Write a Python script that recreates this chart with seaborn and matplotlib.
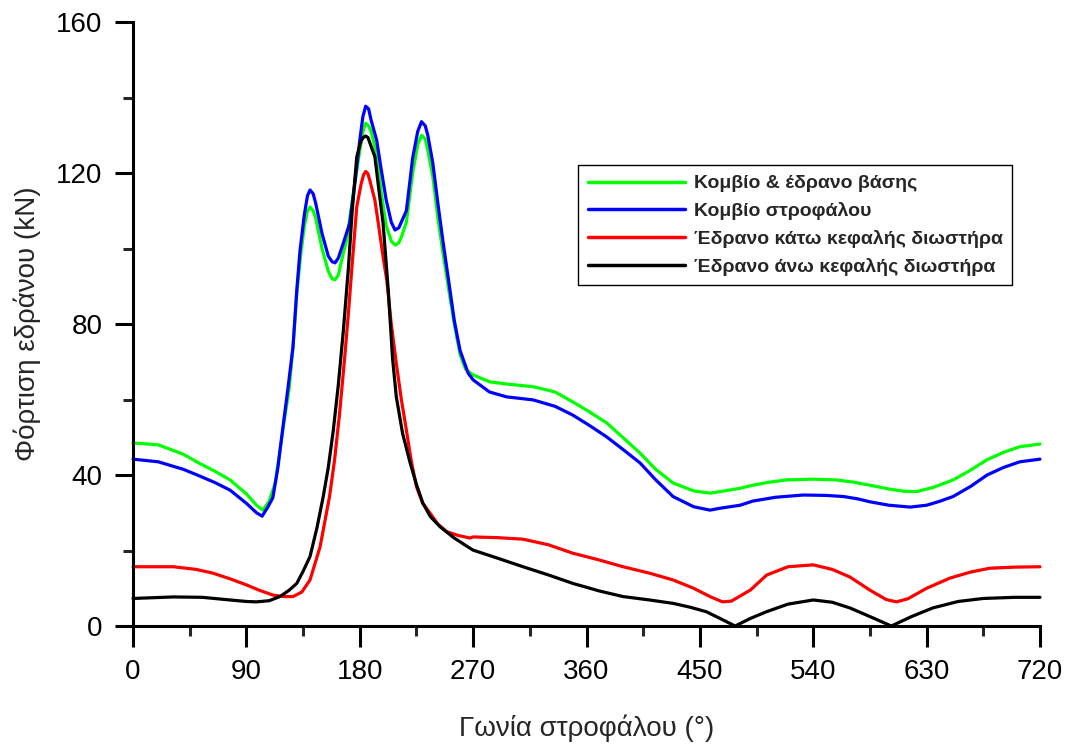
import matplotlib
matplotlib.use("Agg")
import matplotlib.pyplot as plt
from matplotlib.ticker import MultipleLocator
import pandas as pd
import seaborn as sns

# crank angle (deg) / bearing load (kN)
main_angle = [0, 20, 40, 51, 65, 77, 90, 98, 103, 108, 113, 119, 124, 127, 130, 133, 136,
              138.5, 140.5, 143, 145, 150, 155, 158, 160.4, 163, 165, 170, 175, 180, 182.5,
              184.7, 187, 189, 193.4, 197, 201, 205, 208, 211, 213, 217, 222, 226, 229, 232,
              234, 238, 242, 246, 251.6, 255, 259.6, 264, 270, 283,
              296.6, 317.6, 335, 349, 362, 376, 390, 402.5, 415, 428.7, 445, 458, 466, 482,
              492, 505, 519, 540, 558.6, 572, 585, 600, 612, 622, 636, 651, 665, 677.7, 691,
              704, 720]
main_load = [48.5, 48, 45.5, 43.4, 41, 38.7, 35, 32, 30.7, 33, 38, 52, 63, 74, 88, 98, 106,
             110, 111, 110, 108, 100, 94, 92, 91.7, 93, 96, 103, 115, 126, 131,
             133.2, 132.5, 131, 125, 115, 106, 102, 100.9, 101.5, 103, 107, 120, 127.5, 130, 129,
             126, 119, 108, 99, 87, 80, 72, 68, 66.5, 64.7,
             64.1, 63.4, 62, 59.4, 56.8, 53.8, 49.6, 45.8, 41.5, 37.9, 35.8, 35.2, 35.6, 36.5,
             37.3, 38.1, 38.7, 38.9, 38.7, 38.1, 37.3, 36.3, 35.7, 35.6, 36.8, 38.7, 41.3, 44, 46,
             47.5, 48.2]

crank_angle = [0, 20, 40, 51, 65, 77, 90, 98, 102.5, 107, 111, 115, 119, 123, 127, 130, 132.6,
               136, 138.5, 140.5, 143, 145, 150, 155, 158, 160.4, 163, 167, 172, 176, 180, 182.5,
               184.7, 187, 189, 193.4, 197, 201, 205, 208, 211, 213, 217, 222, 226, 229, 232,
               234, 238, 242, 246, 251.6, 255, 259.6, 266, 270,
               283, 296.6, 317.6, 335, 349, 362, 376, 390, 402.5, 415, 428.7, 445, 458, 466,
               482, 492, 510, 532, 550, 564, 575, 585, 600, 617, 630, 640, 651, 665, 678, 691,
               704, 720]
crank_load = [44.2, 43.5, 41.5, 40, 38, 36, 32.5, 30, 29.1, 31.5, 34, 42, 52.7, 63, 74, 89, 99.6,
              109, 114, 115.5, 114.5, 112, 104, 98, 96.5, 96.2, 97.5, 101.5, 106.7, 117, 128.7, 135,
              137.7, 137, 134, 128.7, 121, 112.8, 107, 104.9, 105.5, 107, 110, 124, 131, 133.6, 132.5,
              130, 122.6, 112, 102, 89, 81, 73, 67, 65.2,
              62, 60.7, 59.9, 58.2, 55.9, 53.2, 50.1, 46.5, 43.2, 38.7, 34.3, 31.6, 30.7, 31.2,
              32, 33.1, 34.1, 34.7, 34.6, 34.3, 33.7, 32.9, 32, 31.5, 32, 33, 34.3, 37, 40, 42,
              43.5, 44.2]

lower_angle = [0, 32, 50, 63.5, 77, 90, 100, 111, 120, 127, 134, 140.5, 148.5, 156, 160, 164,
               168, 171, 174, 177.6, 181, 183, 184.7, 186.5, 188, 192, 195, 198.5, 201.4, 205,
               209, 213, 217, 221, 225, 230, 235.8, 242, 249, 258, 267.5, 270, 290, 309.6, 330,
               349, 370, 389, 410, 428.7, 445, 458, 468, 475, 490, 503, 520, 540, 555, 569, 585,
               598, 606, 615, 630, 648.6, 665, 680, 700, 720]
lower_load = [15.7, 15.7, 15, 14, 12.5, 10.9, 9.5, 8.2, 7.8, 7.8, 9, 12.2, 21, 34.3, 44, 56.4,
              71, 83, 96, 111, 117, 119.5, 120.4, 119.8, 118, 112.8, 106, 97.8, 91.7, 80,
              69.6, 60, 51.9, 43.5, 36.9, 32.5, 29.9, 27, 25, 24, 23.3, 23.6, 23.4, 23, 21.5,
              19.3, 17.5, 15.7, 14, 12.2, 10, 7.8, 6.4, 6.6, 9.5, 13.5, 15.7, 16.2, 15, 13, 9.5,
              7, 6.4, 7.2, 10, 12.7, 14.3, 15.3, 15.6, 15.7]

upper_angle = [0, 32, 55, 77, 90, 98, 108, 116.7, 124, 130, 135, 140.5, 146, 151, 155, 159,
               163, 167, 171, 174, 177.6, 181, 183, 184.7, 186.5, 188, 192, 195, 198.5, 202.6,
               206, 209, 214, 220, 225, 230, 236, 243.7, 255, 267.5, 270, 290, 309.6, 330, 349,
               370, 389, 410, 428.7, 442, 455, 466, 478, 490, 503, 520, 540, 555, 569, 585, 602,
               618, 635, 655, 675, 700, 720]
upper_load = [7.3, 7.7, 7.6, 6.9, 6.5, 6.4, 6.7, 7.8, 9.5, 11.3, 14.5, 18.4, 26, 34.3, 42, 51.9,
              64, 78.4, 95, 110, 124.3, 128.5, 129.5, 129.8, 129.4, 128, 124.3, 116, 106.7, 89,
              71, 60.7, 51, 43.2, 37.5, 32.6, 29, 26.3, 23.3, 20.6, 20.1, 17.9, 15.7, 13.5, 11.3,
              9.3, 7.8, 6.9, 6, 5, 3.8, 2, 0, 2, 3.8, 5.8, 6.9, 6.3, 4.8, 2.5, 0,
              2.5, 4.8, 6.5, 7.3, 7.6, 7.6]

labels = [
    "Κομβίο & έδρανο βάσης",
    "Κομβίο στροφάλου",
    "Έδρανο κάτω κεφαλής διωστήρα",
    "Έδρανο άνω κεφαλής διωστήρα",
]
colors = ["#00FF00", "#0000FF", "#FF0000", "#000000"]

series = [(main_angle, main_load), (crank_angle, crank_load),
          (lower_angle, lower_load), (upper_angle, upper_load)]
frames = []
for name, (ang, load) in zip(labels, series):
    frames.append(pd.DataFrame({"angle": ang, "load": load, "bearing": name}))
df = pd.concat(frames, ignore_index=True)

sns.set_style("ticks")
plt.rcParams["font.family"] = ["Liberation Sans", "DejaVu Sans"]

fig = plt.figure(figsize=(10.66, 7.49), dpi=100)
ax = fig.add_axes([0.1248, 0.1642, 0.8508, 0.8064])

sns.lineplot(
    data=df, x="angle", y="load", hue="bearing", hue_order=labels,
    palette=colors, estimator=None, sort=False, linewidth=2.3, ax=ax,
)
for line in ax.get_lines():
    line.set_clip_on(False)
    line.set_solid_joinstyle("round")

ax.set_xlim(0, 720)
ax.set_ylim(0, 160)
ax.xaxis.set_major_locator(MultipleLocator(90))
ax.xaxis.set_minor_locator(MultipleLocator(45))
ax.yaxis.set_major_locator(MultipleLocator(40))
ax.yaxis.set_minor_locator(MultipleLocator(20))

for side in ["top", "right"]:
    ax.spines[side].set_visible(False)
for side in ["left", "bottom"]:
    ax.spines[side].set_linewidth(2.2)
    ax.spines[side].set_color("black")

ax.tick_params(axis="x", which="major", length=15, width=2.2, pad=9, labelsize=20, colors="black")
ax.tick_params(axis="x", which="minor", length=7.5, width=2.2)
ax.tick_params(axis="y", which="major", length=13, width=2.2, pad=9, labelsize=20, colors="black")
ax.tick_params(axis="y", which="minor", length=7.5, width=2.2)

ax.set_xlabel("Γωνία στροφάλου (°)", fontsize=20, labelpad=21)
ax.set_ylabel("Φόρτιση εδράνου (kN)", fontsize=20, labelpad=11)

leg = ax.legend(
    loc="upper left", bbox_to_anchor=(0.4906, 0.7632), borderaxespad=0,
    frameon=True, fancybox=False, framealpha=1, edgecolor="black",
    handlelength=5.0, labelspacing=0.5, handletextpad=0.45, borderpad=0.5,
    prop={"weight": "bold", "size": 14},
)
leg.get_frame().set_linewidth(1.0)
for h in leg.get_lines():
    h.set_linewidth(2.5)

fig.savefig("out.png", dpi=100)
